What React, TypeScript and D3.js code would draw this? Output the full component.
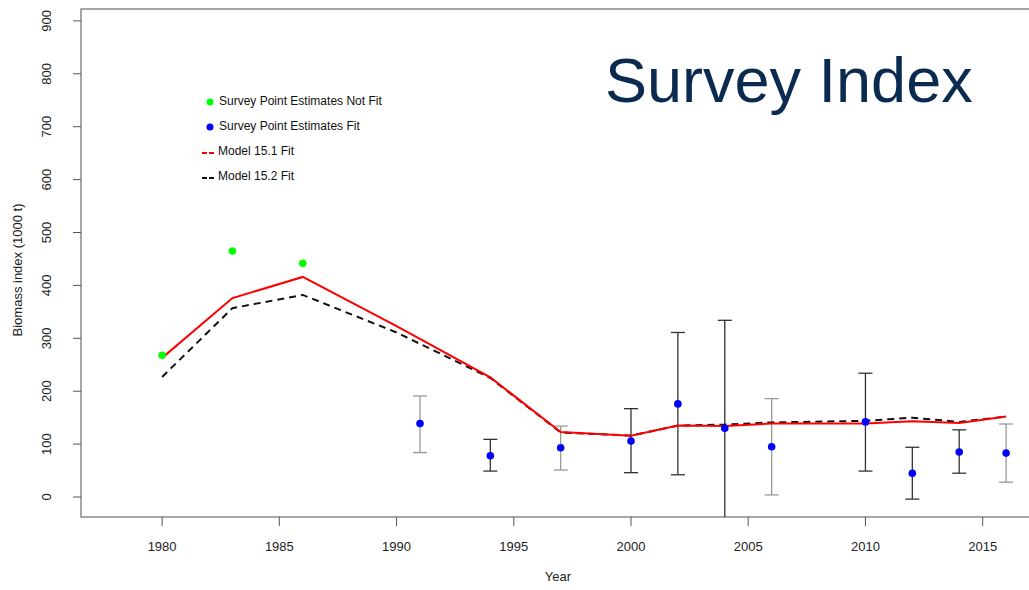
import React from "react";
import * as d3 from "d3";

const notFitYears = [1980, 1983, 1986];
const notFitValues = [268, 465, 442];

const fitYears = [1991, 1994, 1997, 2000, 2002, 2004, 2006, 2010, 2012, 2014, 2016];
const fitValues = [139, 78, 93, 106, 176, 130, 95, 142, 45, 85, 83];
const fitUpper = [191, 109, 134, 167, 311, 334, 186, 234, 94, 127, 138];
const fitLower = [84, 49, 51, 46, 42, -120, 4, 49, -4, 45, 28];
const barShade = ["gray", "dark", "gray", "dark", "dark", "dark", "gray", "dark", "dark", "dark", "gray"];

const modelYears = [1980, 1983, 1986, 1990, 1994, 1997, 2000, 2002, 2004, 2006, 2010, 2012, 2014, 2016];
const model151 = [263, 376, 416, 323, 226, 123, 116, 135, 134, 139, 139, 143, 140, 152];
const model152 = [227, 357, 382, 311, 225, 122, 116, 135, 137, 141, 144, 150, 142, 152];

const xTicks = [1980, 1985, 1990, 1995, 2000, 2005, 2010, 2015];
const yTicks = [0, 100, 200, 300, 400, 500, 600, 700, 800, 900];

const legendLabels = [
  "Survey Point Estimates Not Fit",
  "Survey Point Estimates Fit",
  "Model 15.1 Fit",
  "Model 15.2 Fit",
];

const W = 1029;
const H = 590;
const L = 81, T = 9, R = 1034, B = 517;
const FONT = "'Liberation Sans', Arial, sans-serif";

export default function App() {
  const x = d3.scaleLinear().domain([1976.54, 2017.19]).range([L, R]);
  const y = d3.scaleLinear().domain([-37.8, 922.5]).range([B, T]);
  const line = d3
    .line<number>()
    .x((_, i) => x(modelYears[i]))
    .y((d) => y(d));

  return (
    <svg
      width={W}
      height={H}
      style={{ position: "absolute", left: 0, top: 0, background: "#fff" }}
      fontFamily={FONT}
    >
      <defs>
        <clipPath id="plotclip">
          <rect x={L} y={T} width={R - L} height={B - T} />
        </clipPath>
      </defs>
      <rect x={0} y={0} width={W} height={H} fill="#fff" />

      {/* axes box */}
      <rect x={L} y={T} width={R - L} height={B - T} fill="none" stroke="#777" strokeWidth={1.3} />

      {/* y axis */}
      {yTicks.map((t) => (
        <g key={"y" + t}>
          <line x1={L - 8} x2={L} y1={y(t)} y2={y(t)} stroke="#555" strokeWidth={1} />
          <text
            transform={`translate(${L - 33},${y(t)}) rotate(-90)`}
            textAnchor="middle"
            dominantBaseline="middle"
            fontSize={13}
            fill="#222"
          >
            {t}
          </text>
        </g>
      ))}
      <text
        transform={`translate(19,270) rotate(-90)`}
        textAnchor="middle"
        dominantBaseline="middle"
        fontSize={13}
        fill="#222"
      >
        Biomass index (1000 t)
      </text>

      {/* x axis */}
      {xTicks.map((t) => (
        <g key={"x" + t}>
          <line x1={x(t)} x2={x(t)} y1={B} y2={B + 9} stroke="#555" strokeWidth={1} />
          <text x={x(t)} y={548} textAnchor="middle" dominantBaseline="middle" fontSize={13} fill="#222">
            {t}
          </text>
        </g>
      ))}
      <text x={558} y={578} textAnchor="middle" dominantBaseline="middle" fontSize={13} fill="#222">
        Year
      </text>

      <g clipPath="url(#plotclip)">
        {/* error bars */}
        {fitYears.map((yr, i) => {
          const c = barShade[i] === "gray" ? "#999" : "#333";
          const cx = x(yr);
          return (
            <g key={"e" + yr} stroke={c} strokeWidth={1.3}>
              <line x1={cx} x2={cx} y1={y(fitUpper[i])} y2={y(fitLower[i])} />
              <line x1={cx - 7} x2={cx + 7} y1={y(fitUpper[i])} y2={y(fitUpper[i])} />
              <line x1={cx - 7} x2={cx + 7} y1={y(fitLower[i])} y2={y(fitLower[i])} />
            </g>
          );
        })}

        {/* model lines */}
        <path d={line(model152) || ""} fill="none" stroke="#111" strokeWidth={2} strokeDasharray="7,5" />
        <path d={line(model151) || ""} fill="none" stroke="#ff0000" strokeWidth={2} />

        {/* points */}
        {fitYears.map((yr, i) => (
          <circle key={"b" + yr} cx={x(yr)} cy={y(fitValues[i])} r={3.8} fill="#0000ff" />
        ))}
        {notFitYears.map((yr, i) => (
          <circle key={"g" + yr} cx={x(yr)} cy={y(notFitValues[i])} r={3.8} fill="#00ff00" />
        ))}
      </g>

      {/* legend */}
      <g fontSize={12} fill="#111">
        <circle cx={210} cy={102} r={3.5} fill="#00ff00" />
        <text x={219} y={102} dominantBaseline="middle">{legendLabels[0]}</text>
        <circle cx={210} cy={127} r={3.5} fill="#0000ff" />
        <text x={219} y={127} dominantBaseline="middle">{legendLabels[1]}</text>
        <line x1={202} x2={216} y1={153} y2={153} stroke="#ff0000" strokeWidth={2} strokeDasharray="5,2" />
        <text x={218} y={152} dominantBaseline="middle">{legendLabels[2]}</text>
        <line x1={202} x2={216} y1={178} y2={178} stroke="#111" strokeWidth={2} strokeDasharray="5,2" />
        <text x={218} y={177} dominantBaseline="middle">{legendLabels[3]}</text>
      </g>

      {/* title */}
      <text x={605} y={102} fontSize={63} fill="#0b2a50" fontFamily={FONT}>
        Survey Index
      </text>
    </svg>
  );
}
